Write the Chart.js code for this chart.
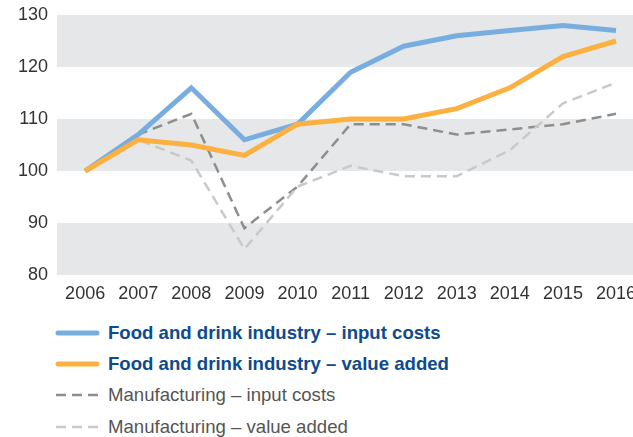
<!DOCTYPE html>
<html>
<head>
<meta charset="utf-8">
<script src="https://cdn.jsdelivr.net/npm/chart.js@4"></script>
<style>
    html, body { margin: 0; padding: 0; background: #fff; overflow: hidden; }
    #wrap { position: relative; width: 633px; height: 305px; }
    #legend { margin: 12px 0 0 55px; font-family: "Liberation Sans", Arial, sans-serif; font-size: 18.6px; }
    .item { display: flex; align-items: center; height: 31.4px; }
    .item svg { margin-right: 8px; }
    .strong { color: #0d4a8e; font-weight: bold; }
    .plain { color: #555; }
</style>
</head>
<body>
<div id="wrap"><canvas id="chart"></canvas></div>
<div id="legend"></div>
<script>
const years = [2006, 2007, 2008, 2009, 2010, 2011, 2012, 2013, 2014, 2015, 2016];
const foodInput = [100, 107, 116, 106, 109, 119, 124, 126, 127, 128, 127];
const foodValue = [100, 106, 105, 103, 109, 110, 110, 112, 116, 122, 125];
const manuInput = [100, 107, 111, 89, 97, 109, 109, 107, 108, 109, 111];
const manuValue = [100, 106, 102, 85, 97, 101, 99, 99, 104, 113, 117];
const seriesNames = [
    'Food and drink industry – input costs',
    'Food and drink industry – value added',
    'Manufacturing – input costs',
    'Manufacturing – value added'
];
const bands = [[120, 130], [100, 110], [80, 90]];

const cores = {
    azul: '#78addf',
    laranja: '#fbb040',
    cinza: '#8e8e8e',
    cinzaClaro: '#c9c9c9',
    faixa: '#e6e7e8'
};

function pontos(vals) {
    return vals.map((v, i) => ({ x: years[i], y: v }));
}

// grey horizontal bands behind the lines
const faixas = {
    id: 'faixas',
    beforeDatasetsDraw(chart) {
        const { ctx, chartArea, scales } = chart;
        ctx.save();
        ctx.fillStyle = cores.faixa;
        bands.forEach(([a, b]) => {
            const y1 = scales.y.getPixelForValue(b);
            const y2 = scales.y.getPixelForValue(a);
            ctx.fillRect(chartArea.left, y1, chartArea.right - chartArea.left, y2 - y1);
        });
        ctx.restore();
    }
};

const datasets = [
    { label: seriesNames[0], data: pontos(foodInput), borderColor: cores.azul, borderWidth: 5, order: 1 },
    { label: seriesNames[1], data: pontos(foodValue), borderColor: cores.laranja, borderWidth: 5, order: 0 },
    { label: seriesNames[2], data: pontos(manuInput), borderColor: cores.cinza, borderWidth: 2.5, borderDash: [10, 6], order: 3 },
    { label: seriesNames[3], data: pontos(manuValue), borderColor: cores.cinzaClaro, borderWidth: 2.5, borderDash: [10, 6], order: 2 }
];

const tickFont = { family: '"Liberation Sans", Arial, sans-serif', size: 18 };

const chart = new Chart(document.getElementById('chart'), {
    type: 'line',
    data: { datasets: datasets },
    options: {
        responsive: true,
        maintainAspectRatio: false,
        animation: false,
        layout: { autoPadding: false, padding: { top: 15, right: 0, bottom: 0, left: 0 } },
        elements: { point: { radius: 0 }, line: { tension: 0, fill: false } },
        plugins: { legend: { display: false }, tooltip: { enabled: false } },
        scales: {
            x: {
                type: 'linear',
                min: 2005.47,
                max: 2016.32,
                grid: { display: false, drawTicks: false },
                border: { display: false },
                ticks: { stepSize: 1, includeBounds: false, color: '#333', font: tickFont, padding: 8, callback: v => String(v) },
                // keep the plot running to the right edge; the last label may be cut
                afterFit(scale) {
                    scale.height = 30;
                    scale.paddingLeft = 0;
                    scale.paddingRight = 0;
                }
            },
            y: {
                min: 80,
                max: 130,
                grid: { display: false, drawTicks: false },
                border: { display: false },
                ticks: { stepSize: 10, color: '#333', font: tickFont, padding: 9 },
                afterFit(scale) {
                    scale.width = 57;
                    scale.paddingTop = 0;
                    scale.paddingBottom = 0;
                }
            }
        }
    },
    plugins: [faixas]
});

// legend in HTML, built from the datasets
const legenda = document.getElementById('legend');
datasets.forEach((ds, i) => {
    const forte = i < 2;
    const dash = ds.borderDash ? `stroke-dasharray="${ds.borderDash.join(' ')}"` : '';
    const cap = forte ? 'round' : 'butt';
    const item = document.createElement('div');
    item.className = 'item';
    item.innerHTML =
        `<svg width="45" height="10"><line x1="${forte ? 3 : 1}" y1="5" x2="${forte ? 42 : 45}" y2="5" stroke="${ds.borderColor}" stroke-width="${ds.borderWidth}" stroke-linecap="${cap}" ${dash}/></svg>` +
        `<span class="${forte ? 'strong' : 'plain'}">${ds.label}</span>`;
    legenda.appendChild(item);
});
</script>
</body>
</html>
